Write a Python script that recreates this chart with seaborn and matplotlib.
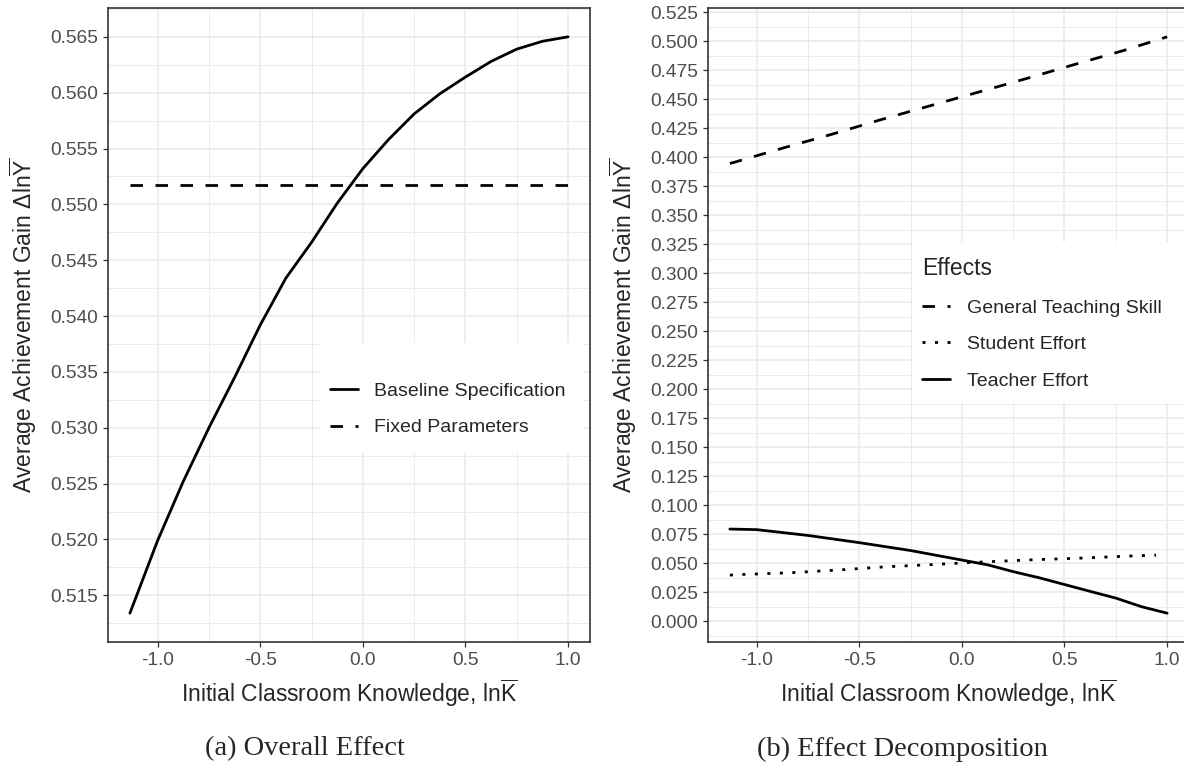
import numpy as np
import pandas as pd
import matplotlib
matplotlib.use("Agg")
import matplotlib.pyplot as plt
from matplotlib.ticker import MultipleLocator, FormatStrFormatter
from matplotlib.patches import Rectangle
import seaborn as sns

# panel (a): overall effect
knowledge_a = [-1.135, -1.0, -0.875, -0.75, -0.625, -0.5, -0.375, -0.25, -0.125,
               0.0, 0.125, 0.25, 0.375, 0.5, 0.625, 0.75, 0.875, 1.0]
baseline = [0.5134, 0.5199, 0.5252, 0.5300, 0.5345, 0.5392, 0.5434, 0.5466, 0.5501,
            0.5532, 0.5558, 0.5581, 0.5599, 0.5614, 0.5628, 0.5639, 0.5646, 0.5650]
fixed_x = [-1.135, 1.0]
fixed_params = [0.5517, 0.5517]

# panel (b): effect decomposition
skill_x = [-1.13, -1.108, -0.874, -0.632, -0.396, -0.164, 0.078, 0.314, 0.548, 0.788, 1.0]
general_skill = [0.3946, 0.3956, 0.4077, 0.4198, 0.4322, 0.4438, 0.4559, 0.4677, 0.4798,
                 0.4919, 0.5037]
student_x = [-1.13, -1.077, -0.84, -0.604, -0.367, -0.13, 0.106, 0.342, 0.587, 0.824, 0.946]
student_effort = [0.0398, 0.0403, 0.0418, 0.0442, 0.0470, 0.0490, 0.0512, 0.0530, 0.0545,
                  0.0563, 0.0570]
teacher_x = [-1.13, -1.0, -0.75, -0.5, -0.25, 0.0, 0.125, 0.25, 0.375, 0.5, 0.625,
             0.75, 0.875, 1.0]
teacher_effort = [0.0795, 0.0790, 0.0740, 0.0678, 0.0610, 0.0528, 0.0487, 0.0428, 0.0376,
                  0.0317, 0.0258, 0.0200, 0.0126, 0.0070]

sns.set_theme(style="ticks")
plt.rcParams["font.family"] = ["Liberation Sans", "DejaVu Sans"]
plt.rcParams["mathtext.fontset"] = "custom"
plt.rcParams["mathtext.rm"] = "Liberation Sans"
plt.rcParams["mathtext.it"] = "Liberation Sans:italic"
plt.rcParams["axes.unicode_minus"] = False

W, H = 1184, 769
fig = plt.figure(figsize=(W / 100, H / 100), dpi=100)
ax1 = fig.add_axes([108 / W, 1 - 642 / H, (590 - 108) / W, (642 - 8) / H])
ax2 = fig.add_axes([708 / W, 1 - 642 / H, (1189 - 708) / W, (642 - 8) / H])

LW = 2.0
dashed = (4.5, 4.5)
dotted = (1.1, 3.4)

df_a = pd.concat([
    pd.DataFrame({"x": knowledge_a, "y": baseline, "spec": "Baseline Specification"}),
    pd.DataFrame({"x": fixed_x, "y": fixed_params, "spec": "Fixed Parameters"}),
])
sns.lineplot(data=df_a, x="x", y="y", style="spec",
             style_order=["Baseline Specification", "Fixed Parameters"],
             dashes={"Baseline Specification": "", "Fixed Parameters": dashed},
             color="black", lw=LW, ax=ax1, estimator=None, sort=False)

df_b = pd.concat([
    pd.DataFrame({"x": skill_x, "y": general_skill, "Effects": "General Teaching Skill"}),
    pd.DataFrame({"x": student_x, "y": student_effort, "Effects": "Student Effort"}),
    pd.DataFrame({"x": teacher_x, "y": teacher_effort, "Effects": "Teacher Effort"}),
])
order_b = ["General Teaching Skill", "Student Effort", "Teacher Effort"]
sns.lineplot(data=df_b, x="x", y="y", style="Effects", style_order=order_b,
             dashes={"General Teaching Skill": dashed, "Student Effort": dotted,
                     "Teacher Effort": ""},
             color="black", lw=LW, ax=ax2, estimator=None, sort=False)

ylab = r"Average Achievement Gain $\Delta\mathrm{ln}\overline{\mathrm{Y}}$"
xlab = r"Initial Classroom Knowledge, $\mathrm{ln}\overline{\mathrm{K}}$"

for ax, ymaj, ymin in [(ax1, 0.005, 0.0025), (ax2, 0.025, 0.0125)]:
    ax.set_axisbelow(True)
    ax.xaxis.set_major_locator(MultipleLocator(0.5))
    ax.xaxis.set_minor_locator(MultipleLocator(0.25))
    ax.yaxis.set_major_locator(MultipleLocator(ymaj))
    ax.yaxis.set_minor_locator(MultipleLocator(ymin))
    ax.xaxis.set_major_formatter(FormatStrFormatter("%.1f"))
    ax.yaxis.set_major_formatter(FormatStrFormatter("%.3f"))
    ax.grid(True, which="major", color="#EBEBEB", lw=1.2)
    ax.grid(True, which="minor", color="#EBEBEB", lw=0.7)
    ax.tick_params(which="major", length=3.6, width=0.9, color="#333333",
                   labelsize=13.8, labelcolor="#4D4D4D", pad=3.5)
    ax.tick_params(which="minor", length=0)
    for s in ax.spines.values():
        s.set_color("#333333")
        s.set_linewidth(1.2)
    ax.set_xlabel(xlab, fontsize=16.5, labelpad=6)
    ax.set_ylabel(ylab, fontsize=16.5, labelpad=8)

# legend (a)
old = ax1.get_legend()
handles, labels = old.legend_handles, [t.get_text() for t in old.get_texts()]
old.remove()
for h in handles:
    h.set_linewidth(LW)
    h.set_color("black")
ax1.add_patch(Rectangle((0.44, 0.298), 0.545, 0.174, transform=ax1.transAxes,
                        facecolor="white", edgecolor="none", zorder=1.5))
ax1.legend(handles, labels, loc="upper left", bbox_to_anchor=(0.46, 0.409),
           frameon=False, fontsize=14, handlelength=1.45, handletextpad=0.85,
           labelspacing=0.95, borderpad=0, borderaxespad=0)

# legend (b)
old = ax2.get_legend()
handles, labels = old.legend_handles, [t.get_text() for t in old.get_texts()]
old.remove()
for h in handles:
    h.set_linewidth(LW)
    h.set_color("black")
ax2.add_patch(Rectangle((0.424, 0.377), 0.6, 0.254, transform=ax2.transAxes,
                        facecolor="white", edgecolor="none", zorder=1.5))
ax2.legend(handles, labels, title="Effects", loc="upper left",
           bbox_to_anchor=(0.445, 0.607), frameon=False, fontsize=14,
           title_fontsize=16.5, alignment="left", handlelength=1.45,
           handletextpad=0.85, labelspacing=0.97, borderpad=0, borderaxespad=0)

fig.text(305 / W, 1 - 749 / H, "(a) Overall Effect", ha="center", va="center",
         family="Liberation Serif", fontsize=20.5)
fig.text(902 / W, 1 - 749 / H, "(b) Effect Decomposition", ha="center", va="center",
         family="Liberation Serif", fontsize=20.5)

fig.savefig("out.png", dpi=100)
